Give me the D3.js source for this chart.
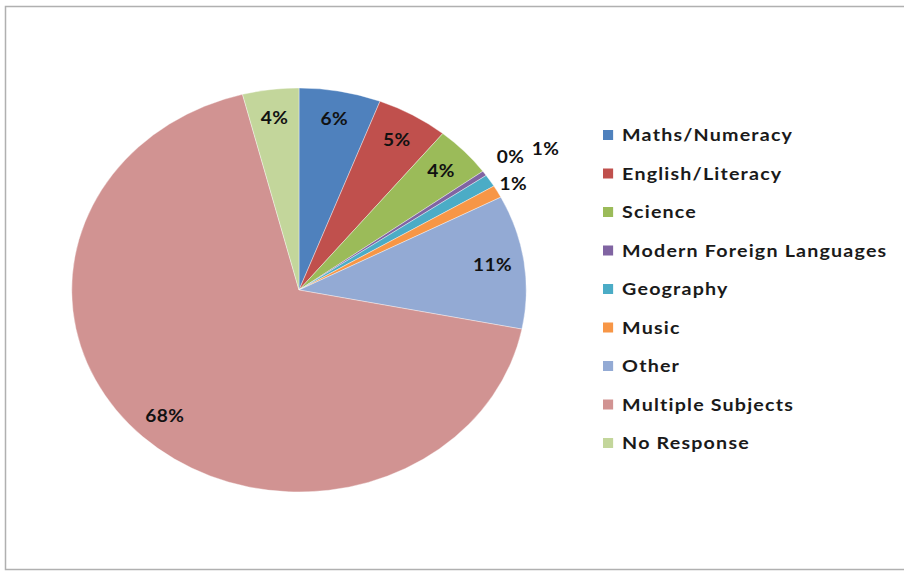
<!DOCTYPE html>
<html>
<head>
<meta charset="utf-8">
<script src="https://cdn.jsdelivr.net/npm/d3@7"></script>
<style>
  body { margin: 0; background: #fff; }
  text { font-family: Lato, "Open Sans", sans-serif; }
</style>
</head>
<body>
<svg id="pie" width="904" height="572"></svg>
<script>
// Subjects and their share of responses (percent)
const subjects = ["Maths/Numeracy", "English/Literacy", "Science", "Modern Foreign Languages",
  "Geography", "Music", "Other", "Multiple Subjects", "No Response"];
const shares = [5.8, 5.1, 4.1, 0.4, 1.0, 1.0, 10.7, 67.9, 4.0];
const labels = ["6%", "5%", "4%", "0%", "1%", "1%", "11%", "68%", "4%"];

const colors = ["#4f81bd", "#c0504d", "#9bbb59", "#8064a2", "#4bacc6",
  "#f79646", "#93aad4", "#d19392", "#c3d69b"];

// where each label sits, as a fraction of the radius
const labelRadius = {
  "Modern Foreign Languages": 1.14,
  "Geography": 1.29,
  "Music": 1.08
};

const svg = d3.select("#pie");
const width = +svg.attr("width");
const height = +svg.attr("height");

// chart frame (right edge runs off the picture)
svg.append("rect")
  .attr("x", 5.5).attr("y", 6.5)
  .attr("width", width + 20).attr("height", height - 9)
  .attr("fill", "#fff")
  .attr("stroke", "#b0b0b0")
  .attr("stroke-width", 1.5);

const stretch = 1.125; // the original chart is a bit wider than tall
const radius = 202;

const g = svg.append("g")
  .attr("transform", `translate(299,290) scale(${stretch},1)`);

const data = subjects.map((s, i) => ({ subject: s, value: shares[i], label: labels[i], color: colors[i] }));

const pie = d3.pie()
  .sort(null)
  .value(d => d.value);

const arc = d3.arc()
  .innerRadius(0)
  .outerRadius(radius);

const arcs = pie(data);

g.selectAll("path")
  .data(arcs)
  .enter()
  .append("path")
  .attr("d", arc)
  .attr("fill", d => d.data.color)
  .attr("stroke", "#fff")
  .attr("stroke-opacity", 0.6)
  .attr("stroke-width", 0.6);

// labels, inside the big slices and pushed out for the tiny ones
g.selectAll("text")
  .data(arcs)
  .enter()
  .append("text")
  .attr("transform", d => {
    const k = labelRadius[d.data.subject] || 0.86;
    const r = radius * k;
    const a = (d.startAngle + d.endAngle) / 2;
    return `translate(${Math.sin(a) * r},${-Math.cos(a) * r})`;
  })
  .attr("dy", "0.35em")
  .attr("text-anchor", "middle")
  .style("font-size", "17px")
  .style("font-weight", "bold")
  .style("letter-spacing", "0.4px")
  .style("fill", "#111")
  .text(d => d.data.label);

// legend
const legendY = d3.scalePoint()
  .domain(subjects)
  .range([135, 443]);

const legend = svg.append("g")
  .attr("transform", `translate(603,0) scale(${stretch},1)`);

legend.selectAll("rect")
  .data(data)
  .enter()
  .append("rect")
  .attr("x", 0)
  .attr("y", d => legendY(d.subject) - 5)
  .attr("width", 9)
  .attr("height", 10)
  .attr("fill", d => d.color);

legend.selectAll("text")
  .data(data)
  .enter()
  .append("text")
  .attr("x", 17)
  .attr("y", d => legendY(d.subject))
  .attr("dy", "0.36em")
  .style("font-size", "17.5px")
  .style("font-weight", "bold")
  .style("letter-spacing", "1.05px")
  .style("fill", "#1a1a1a")
  .text(d => d.subject);
</script>
</body>
</html>
